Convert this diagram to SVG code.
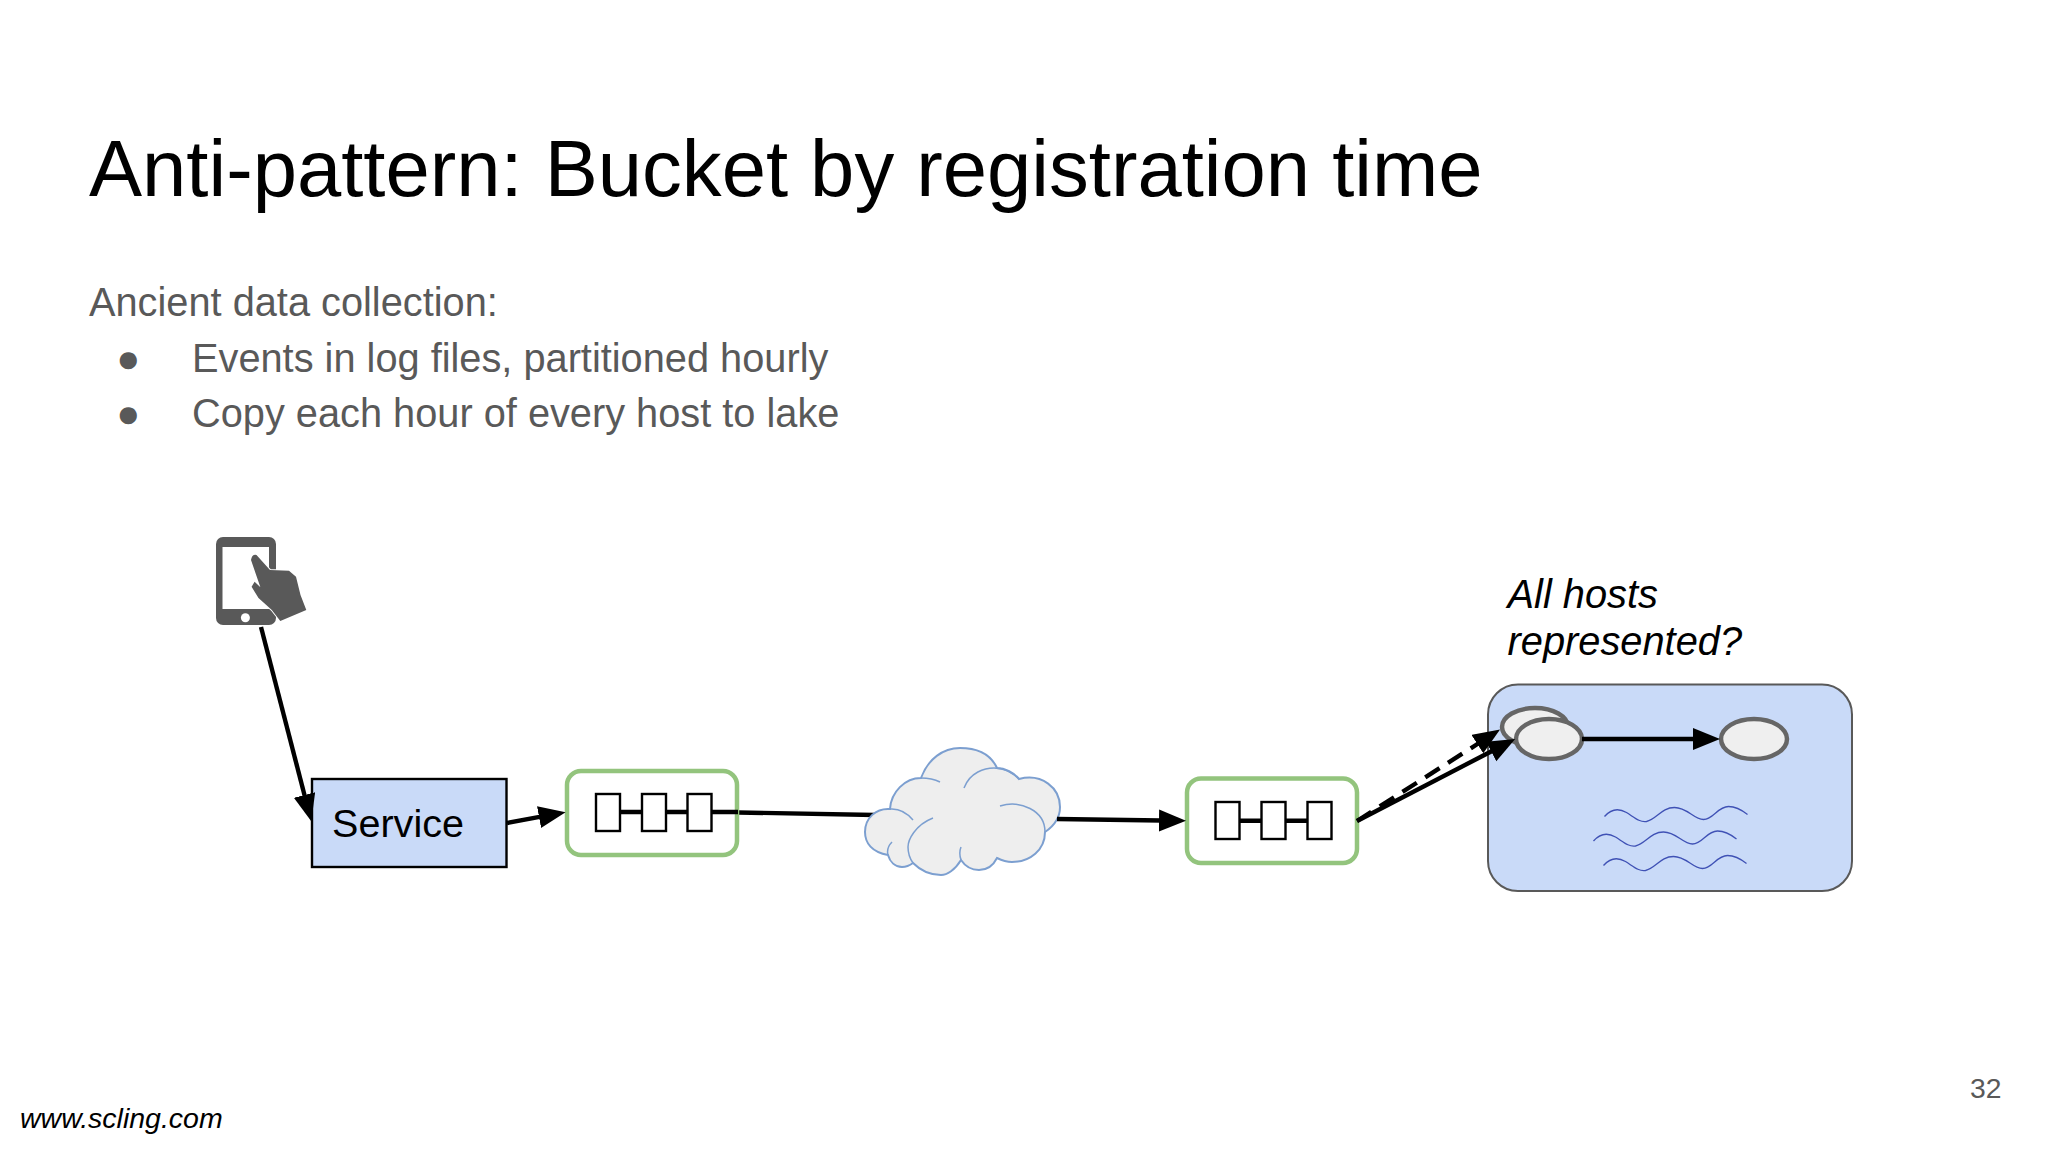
<svg xmlns="http://www.w3.org/2000/svg" width="2048" height="1152" viewBox="0 0 2048 1152">
<defs>
<style>
text{font-family:"Liberation Sans",Arial,sans-serif}
.body{font-size:39.75px;fill:#595959}
.note{font-size:39.8px;font-style:italic;fill:#000}
.q{fill:#fff;stroke:#93c47d;stroke-width:4.5}
.cell{fill:#fff;stroke:#000;stroke-width:2.4}
.link{stroke:#000;stroke-width:4.4;fill:none}
.oval{fill:#efefef;stroke:#666;stroke-width:4.5}
.wave{fill:none;stroke:#3f51b5;stroke-width:1.3}
.cl{fill:none;stroke:#7c9fd0;stroke-width:1.5}
</style>
<marker id="arrow" markerUnits="userSpaceOnUse" markerWidth="30" markerHeight="24" refX="2" refY="11" orient="auto"><path d="M0,0L27,11L0,22z" fill="#000"/></marker>
</defs>
<rect width="2048" height="1152" fill="#fff"/>
<text x="89" y="196" font-size="79.6" fill="#000">Anti-pattern: Bucket by registration time</text>
<text class="body" x="89" y="316">Ancient data collection:</text>
<text class="body" x="116.5" y="372">●</text>
<text class="body" x="192" y="372">Events in log files, partitioned hourly</text>
<text class="body" x="116.5" y="427">●</text>
<text class="body" x="192" y="427">Copy each hour of every host to lake</text>
<g id="connectors-back">
<path class="link" d="M712,812L875,815"/>
</g>
<g id="phone">
<rect x="216" y="537" width="60" height="88" rx="7" fill="#595959"/>
<rect x="222.5" y="547" width="46.5" height="62" fill="#fff"/>
<circle cx="245.4" cy="617.7" r="4.5" fill="#fff"/>
<path d="M256.5,555L270,570L289,570.7L296,576.7L300.5,595L306.3,610L280.3,621L271.8,610L258.5,598L251.6,586.7L254.6,581.7L260.4,587.3L251,560Q252,554 256.5,555z" fill="#595959" stroke="#fff" stroke-width="2" paint-order="stroke" stroke-linejoin="round"/>
</g>
<g id="service">
<rect x="312" y="779" width="194.5" height="88" fill="#c9daf8" stroke="#000" stroke-width="2.4"/>
<text x="332" y="837" font-size="39.6" fill="#000">Service</text>
</g>
<g id="queue1">
<rect class="q" x="567" y="771" width="170" height="84" rx="14"/>
<path class="link" d="M620,812H641M666,812H687M712,812H738"/>
<rect class="cell" x="596" y="794" width="24" height="37"/>
<rect class="cell" x="642" y="794" width="24" height="37"/>
<rect class="cell" x="687.5" y="794" width="24" height="37"/>
</g>
<g id="cloud">
<path d="M888,855C872,852 865,843 865,832C865,818 876,808 890,809C891,792 905,778 921,778C928,759 943,748 960,748C978,748 991,755 997,768C1005,768 1014,773 1019,779C1042,773 1060,788 1060,807C1060,817 1054,826 1045,832C1045,850 1030,862 1012,862C1007,862 1001,860 997,858C993,866 987,870 979,870C972,870 965,866 961,860C955,870 947,875 941,875C930,875 920,870 913,863C909,866 906,867 902,867C895,867 890,862 888,855Z" fill="#eeeeee" stroke="#7c9fd0" stroke-width="2"/>
<path class="cl" d="M921,778Q932,778 940,782M890,809Q903,808 913,820M933,818C915,825 908,840 908,847Q908,856 913,863M964,788C970,772 985,768 994,768Q1008,768 1019,779M1000,806C1020,800 1045,810 1045,832M961,847C959,852 960,857 961,860M892,842C888,846 887,851 888,855"/>
</g>
<g id="queue2">
<rect class="q" x="1187" y="778.5" width="170" height="84.5" rx="14"/>
<path class="link" d="M1239,820.7H1261M1286,820.7H1307"/>
<rect class="cell" x="1215.5" y="802" width="24" height="37"/>
<rect class="cell" x="1261.5" y="802" width="24" height="37"/>
<rect class="cell" x="1307.5" y="802" width="24" height="37"/>
</g>
<g id="lake">
<rect x="1488" y="684.5" width="364" height="206.5" rx="30" fill="#c9daf8" stroke="#595959" stroke-width="2"/>
<ellipse class="oval" cx="1535" cy="727" rx="33" ry="19"/>
<ellipse class="oval" cx="1549" cy="739" rx="33" ry="20"/>
<ellipse class="oval" cx="1754" cy="739" rx="33" ry="20"/>
<path id="w1" class="wave" transform="translate(1.5,2.5)" d="M1603,814C1610,806 1618,806 1625,810C1633,815 1638,820 1645,819C1655,817 1660,805 1673,805C1686,805 1692,817 1702,817C1712,817 1716,804 1727,804C1735,804 1741,808 1746,812"/>
<path id="w2" class="wave" transform="translate(-9.5,27)" d="M1603,814C1610,806 1618,806 1625,810C1633,815 1638,820 1645,819C1655,817 1660,805 1673,805C1686,805 1692,817 1702,817C1712,817 1716,804 1727,804C1735,804 1741,808 1746,812"/>
<path id="w3" class="wave" transform="translate(0.5,51.5)" d="M1603,814C1610,806 1618,806 1625,810C1633,815 1638,820 1645,819C1655,817 1660,805 1673,805C1686,805 1692,817 1702,817C1712,817 1716,804 1727,804C1735,804 1741,808 1746,812"/>
</g>
<g id="connectors">
<path class="link" d="M261,627L305,797" marker-end="url(#arrow)"/>
<path class="link" d="M507,823L541,816.7" marker-end="url(#arrow)"/>
<path class="link" d="M1057,819L1161,820.5" marker-end="url(#arrow)"/>
<path class="link" d="M1357,821L1493,750.5" marker-end="url(#arrow)"/>
<path class="link" d="M1357,821L1479,743" stroke-dasharray="17 10" marker-end="url(#arrow)"/>
<path class="link" d="M1582,739H1695" marker-end="url(#arrow)"/>
</g>
<text class="note" x="1507.5" y="607.5">All hosts</text>
<text class="note" x="1507.5" y="654.5">represented?</text>
<text x="1970" y="1098" font-size="28.3" fill="#595959">32</text>
<text x="20" y="1128" font-size="28.5" font-style="italic" fill="#000">www.scling.com</text>
</svg>
